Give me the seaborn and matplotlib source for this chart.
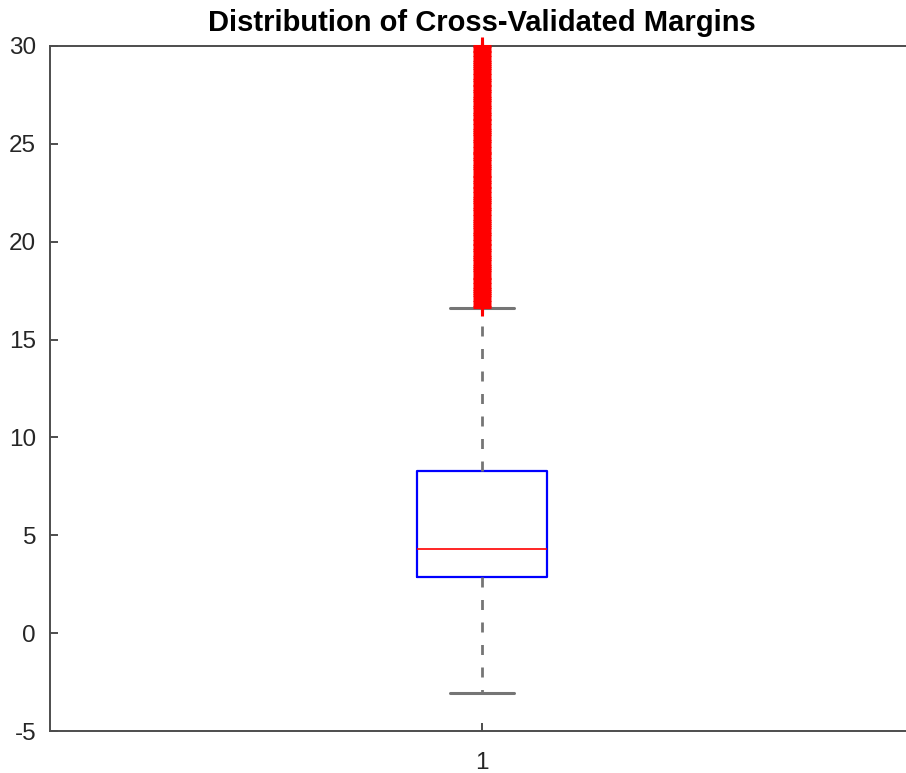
import matplotlib
matplotlib.use("Agg")
import matplotlib.pyplot as plt
import pandas as pd
import seaborn as sns

# Summary of the cross-validated margins: lower whisker, Q1, median, Q3, upper whisker
summary_values = [-3.05, 2.85, 4.3, 8.3, 16.6]

# Margins lying beyond the upper whisker (plotted as '+' outliers)
outlier_values = [
    16.68, 16.79, 16.92, 17.01, 17.15, 17.27, 17.37, 17.50, 17.58, 17.70,
    17.84, 17.95, 18.08, 18.17, 18.31, 18.43, 18.53, 18.66, 18.74, 18.86,
    19.00, 19.11, 19.24, 19.33, 19.47, 19.59, 19.69, 19.82, 19.90, 20.02,
    20.16, 20.27, 20.40, 20.49, 20.63, 20.75, 20.85, 20.98, 21.06, 21.18,
    21.32, 21.43, 21.56, 21.65, 21.79, 21.91, 22.01, 22.14, 22.22, 22.34,
    22.48, 22.59, 22.72, 22.81, 22.95, 23.07, 23.17, 23.30, 23.38, 23.50,
    23.64, 23.75, 23.88, 23.97, 24.11, 24.23, 24.33, 24.46, 24.54, 24.66,
    24.80, 24.91, 25.04, 25.13, 25.27, 25.39, 25.49, 25.62, 25.70, 25.82,
    25.96, 26.07, 26.20, 26.29, 26.43, 26.55, 26.65, 26.78, 26.86, 26.98,
    27.12, 27.23, 27.36, 27.45, 27.59, 27.71, 27.81, 27.94, 28.02, 28.14,
    28.28, 28.39, 28.52, 28.61, 28.75, 28.87, 28.97, 29.10, 29.18, 29.30,
    29.44, 29.55, 29.68, 29.77, 29.91, 30.00,
]

group_label = "1"
y_ticks = [-5, 0, 5, 10, 15, 20, 25, 30]
title_text = "Distribution of Cross-Validated Margins"

sns.set_style("ticks")
plt.rcParams["font.family"] = ["Liberation Sans", "DejaVu Sans"]

axis_color = "#4d4d4d"
text_color = "#262626"
whisker_color = "#757575"

fig = plt.figure(figsize=(9.06, 7.73), dpi=100)
ax = fig.add_axes([50 / 906, 42 / 773, 864 / 906, 685 / 773])

box_df = pd.DataFrame({"group": [group_label] * len(summary_values),
                       "margin": summary_values})
out_df = pd.DataFrame({"group": [group_label] * len(outlier_values),
                       "margin": outlier_values})

sns.boxplot(
    data=box_df, x="group", y="margin", ax=ax,
    whis=(0, 100), width=0.15, fill=False, showfliers=False,
    color="#0000ff", linewidth=1.5,
    boxprops=dict(color="#0000ff", linewidth=1.6),
    medianprops=dict(color="#ff0000", linewidth=1.2),
    whiskerprops=dict(color=whisker_color, linewidth=2.0, linestyle=(0, (3.6, 4.5))),
    capprops=dict(color=whisker_color, linewidth=2.2),
)

sns.stripplot(
    data=out_df, x="group", y="margin", ax=ax,
    jitter=False, marker="+", color="#ff0000", size=13, linewidth=2.2,
)
for coll in ax.collections:
    coll.set_clip_on(False)
    coll.set_zorder(4)

ax.set_xlim(-0.5, 0.5)
ax.set_ylim(-5, 30)
ax.set_yticks(y_ticks)
ax.set_yticklabels([str(t) for t in y_ticks])
ax.set_xlabel("")
ax.set_ylabel("")

for side in ["left", "right", "top", "bottom"]:
    ax.spines[side].set_visible(True)
    ax.spines[side].set_color(axis_color)
    ax.spines[side].set_linewidth(1.4)

ax.tick_params(axis="both", direction="in", length=5.5, width=1.4,
               color=axis_color, labelcolor=text_color, labelsize=17.5,
               top=True, right=True)
ax.tick_params(axis="y", pad=10)
ax.tick_params(axis="x", pad=15)

ax.set_title(title_text, fontsize=21, fontweight="bold", pad=11, color="black")

fig.savefig("out.png", dpi=100)
